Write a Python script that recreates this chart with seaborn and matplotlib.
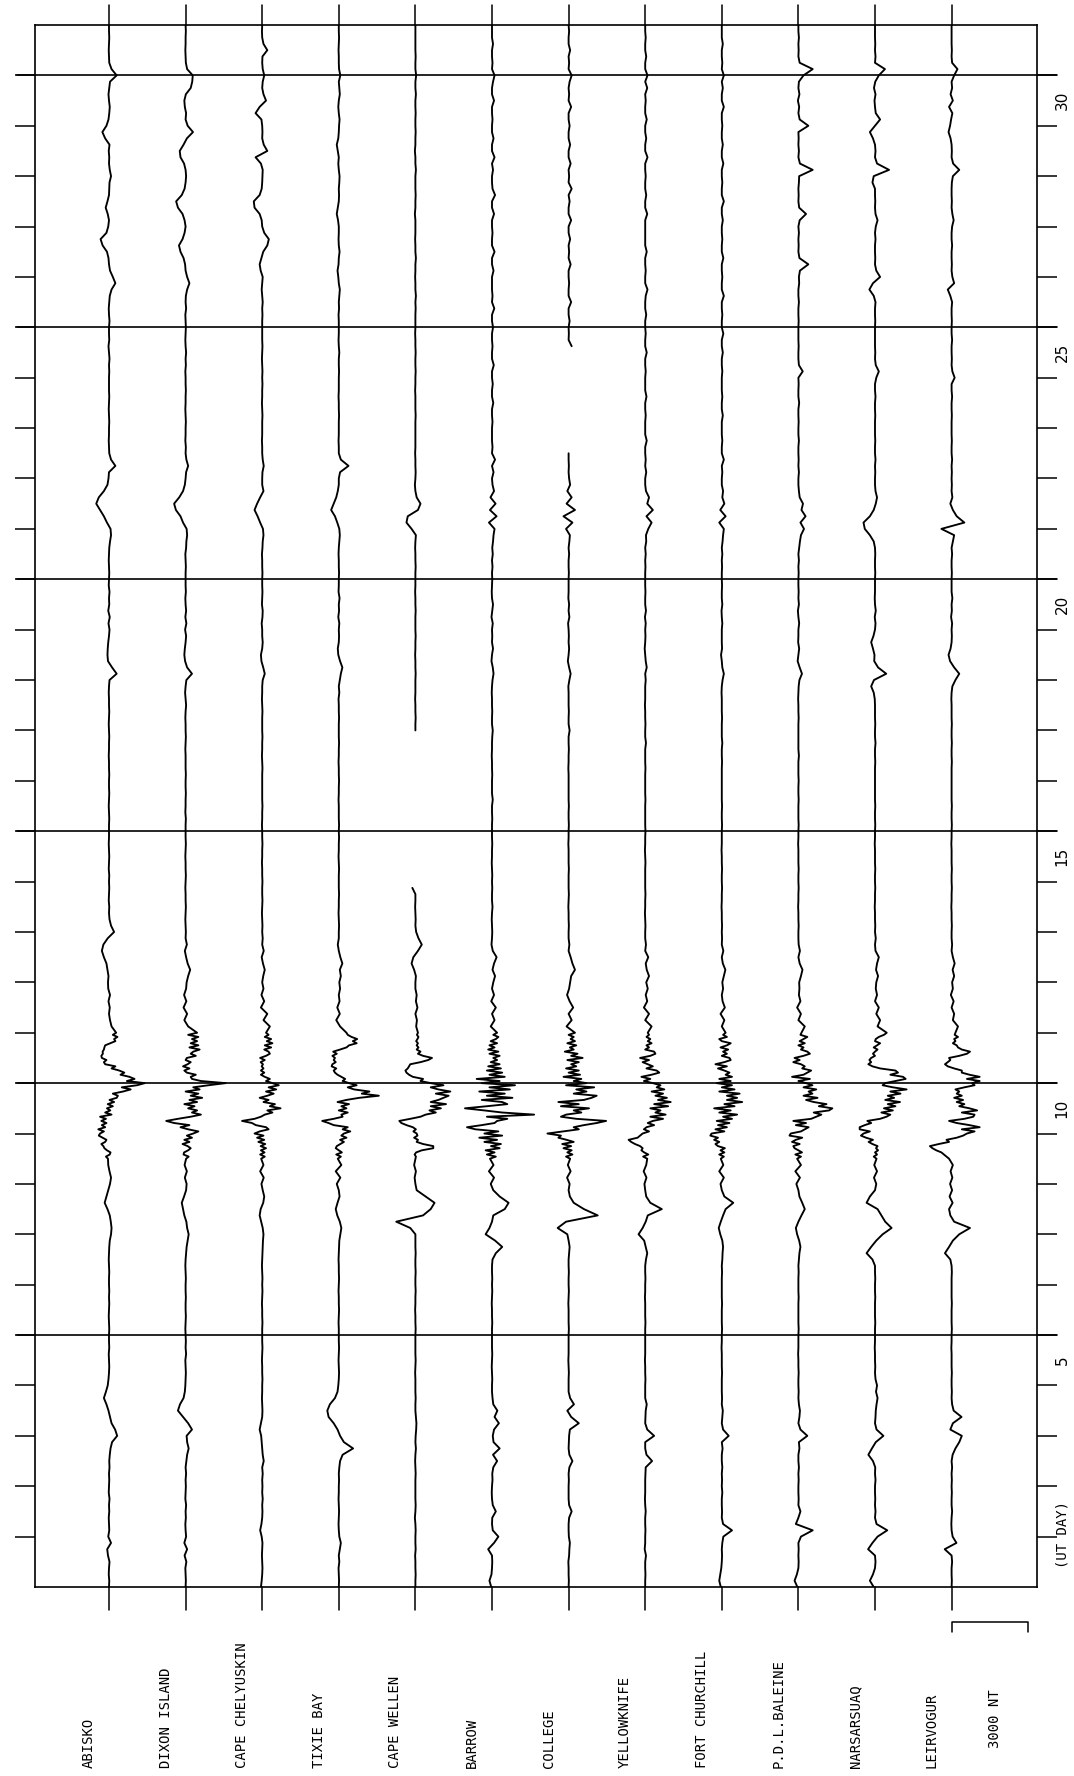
import numpy as np
import pandas as pd
import matplotlib
matplotlib.use("Agg")
import matplotlib.pyplot as plt
import matplotlib.transforms as mtrans
import seaborn as sns

nan = float("nan")

# ---------------- data ----------------
stations = ["ABISKO", "DIXON ISLAND", "CAPE CHELYUSKIN", "TIXIE BAY", "CAPE WELLEN",
            "BARROW", "COLLEGE", "YELLOWKNIFE", "FORT CHURCHILL", "P.D.L.BALEINE",
            "NARSARSUAQ", "LEIRVOGUR"]
day_labels = [5, 10, 15, 20, 25, 30]
day_lines = [5.5, 10.5, 15.5, 20.5, 25.5, 30.5]
value_unit_nT = 10        # list values are in units of 10 nT
station_spacing_nT = 3000
scale_bar_nT = 3000

# sampling: 3-hourly from day 0.5 to 8.875, hourly 9.0-11.458 (storm), 3-hourly 11.5-31.5
n_before, n_storm, n_after = 68, 60, 161
time_grid = np.concatenate([0.5 + np.arange(n_before) / 8,
                            9.0 + np.arange(n_storm) / 24,
                            11.5 + np.arange(n_after) / 8])

# deflections (10 nT units, positive = to the right)
abisko = [
    0, 1, -1, 0, 2, -4, -7, 8,   -3, 1, 0, -1, 1, 0, 2, -1,   0, 1, 0, 2, 1, 3, 6, 12,
    32, 24, 10, 4, -2, -10, -20, -12,   -5, -2, 0, 1, 0, -1, 1, 0,   0, 1, 0, -1, 0, 1, 0, 1,
    0, 0, 1, 0, -1, 0, 1, 3,   8, 10, 7, 3, -6, -17, -10, -3,   4, 8, 2, -3,
    # storm, hourly
    -4, -12, 3,  6, -8, -18,  -22, -30, -15,  -10, -25, -40,  -35, -20, -42,  -15, -28, -10,
    -30, -12, -35,  10, -15, 5,  -8, 15, -5,  20, 2, 30,  35, 15, 55,  85, 50, 110,
    140, 70, 100,  80, 45, 60,  40, 10, 25,  -15, -20, -10,  -28, -30, -24,  -25, -20, -18,
    -15, 5, 25,  20, 33, 15,
    # 3-hourly
    28, 10, 4, 0, 3, -2, 4, -3,
    -4, -2, -6, -10, -20, -28, -22, -5,   20, 8, 2, 0, 1, -1, 0, 1,   0, 1, -1, 0, 1, 0, -1, 0,
    0, 0, 1, 0, -1, 0, 1, 0,   0, 1, 0, 0, -1, 0, 0, 1,   0, -1, 0, 1, 0, 0, -1, 0,
    2, 30, 12, -4, -6, -5, -3, 0,   2, -2, 3, -3, 1, 0, 2, -1,   0, 1, 0, -1, 0, 1, 4, 8,
    6, -8, -20, -35, -50, -40, -20, -6,   -2, 0, 25, 8, 1, 0, -1, 0,   0, 1, 0, -1, 0, 1, 0, 0,
    0, 1, 0, 2, 0, -2, 1, 0,   0, 2, 0, -1, 1, 3, 10, 25,   15, 4, 0, -2, -8, -25, -33, -10,
    -3, 0, -5, -13, -6, 0, 1, 2,   8, 3, 0, 1, -1, 2, -15, -26,   -10, -2, 1, 3, 0, -2, 1, 4,
    30, 10, 1, 0, -1, 0, 1, 0,   0]

dixon_island = [
    0, 1, 0, -1, 3, -4, 6, -5,   2, 0, -1, 1, 0, 2, -1, 0,   1, 0, 2, 0, 3, 6, 12, 6,
    4, 25, 10, -10, -30, -22, -8, -3,   -1, 0, 1, 0, -1, 2, 0, 1,   0, -1, 0, 1, 0, 0, 1, 0,
    0, 1, 0, -1, 0, 2, 4, 8,   12, 6, 3, -5, -10, -15, -6, 2,   4, -3, 5, -4,
    2, 12, -8,  -6, 10, 20,  8, -12, 15,  -5, 25, 5,  30, 50, 10,  -20, 15, -45,
    -76, -30, 20,  60, 25, 45,  10, 35, -5,  45, 15, 65,  20, 50, 0,  55, 30, 90,
    157, 60, 25,  20, 40, 5,  -5, 15, -10,  8, 20, 0,  5, 40, 20,  30, 55, 15,
    50, 20, 45,  25, 50, 10,
    45, 10, -5, 6, -8, 3, -6, 2,
    4, 10, 18, 8, 2, -3, 5, 0,   1, 0, -1, 0, 1, 0, 0, -1,   0, 1, 0, 0, -1, 0, 1, 0,
    0, 0, 1, -1, 0, 0, 1, 0,   0, 1, 0, 0, 0, -1, 0, 1,   0, 0, -1, 0, 2, 0, -2, 0,
    3, 25, 6, -2, -5, -3, 0, 2,   -2, 3, -1, 2, 0, -1, 1, 0,   0, 0, 1, 0, -1, 2, 3, 6,
    4, -10, -20, -38, -45, -25, -10, -3,   0, 2, 10, 3, 0, 1, -1, 0,   0, 1, 0, -1, 0, 0, 1, 0,
    0, -1, 1, 0, 2, 0, -1, 0,   1, 0, -1, 2, 0, 1, 6, 15,   6, 0, -2, -8, -20, -26, -12, -4,
    0, -4, -12, -30, -37, -15, -4, 0,   2, 0, -6, -20, -23, -8, 5, 29,   8, 0, 2, -3, -5, 1, 20, 26,
    28, 6, 1, 0, -1, 0, 0, 1,   0]

cape_chelyuskin = [
    -5, -2, 0, 1, 0, -1, 0, 1,   -2, -8, -3, 0, 1, 0, 2, 0,   1, 0, 2, 0, 6, 2, 0, -2,
    -4, -10, -5, 0, 1, 0, -1, 0,   0, 1, 0, 0, -1, 0, 1, 0,   0, 0, 1, 0, 0, -1, 0, 1,
    0, 1, 0, -1, 0, 1, 2, 3,   5, 2, -4, -10, -6, 4, 8, 2,   -3, 6, -8, 5,
    -4, 10, -8,  9, -5, 15,  -6, 12, -15,  8, -20, 5,  -30, -10, 25,  15, -25, -40,
    -79, -30, -5,  10, 40, 20,  72, 30, 50,  5, 25, -10,  20, 45, 15,  55, 25, 65,
    40, 15, 30,  10, -5, 8,  -5, 5, -2,  3, -6, 10,  -8, 15, 30,  25, 8, 35,
    10, 40, 18,  35, 10, 25,
    15, 30, 5, 20, -5, 8, -3, 5,
    0, 4, 10, 3, -2, 6, 0, 2,   0, 1, 0, -1, 0, 1, 0, 0,   1, 0, 0, -1, 0, 0, 1, 0,
    0, -1, 0, 0, 1, 0, 0, 0,   0, 0, 1, 0, -1, 0, 0, 1,   0, 0, 0, 1, 0, -1, 0, 0,
    2, 10, 4, -3, -5, 0, 2, 0,   0, -2, 1, 2, -1, 0, 1, 0,   0, 1, 0, 0, -1, 1, 2, 5,
    3, -8, -18, -30, -20, -8, 5, 0,   0, 1, 6, 2, 0, 0, -1, 0,   0, 0, 1, 0, -1, 0, 0, 1,
    0, 1, 0, -1, 0, 1, 0, 0,   0, 0, 1, 0, 2, 0, -2, 0,   2, -6, -10, -3, 4, 20, 26, 8,
    0, -2, -10, -30, -33, -10, -2, 0,   1, 2, -5, -26, 20, 6, 0, 1,   0, -3, -26, -10, 15, 5, 0, 2,
    8, 2, 0, 1, 20, 5, 0, -1,   0]

tixie_bay = [
    0, 1, 0, -1, 2, 0, 4, 8,   2, 0, -1, 0, 1, 0, -1, 0,   0, 1, 0, 2, 5, 15, 56, 20,
    5, -5, -20, -40, -45, -35, -15, -5,   -2, 0, 1, 0, -1, 0, 1, 0,   0, 0, -1, 0, 1, 0, 0, -1,
    0, 1, 0, 0, -1, 0, 1, 2,   6, 10, 4, -6, -12, -5, 3, 0,   -8, 6, -12, 10,
    -4, 8, -10,  12, 0, -12,  -8, 6, 20,  5, 30, 10,  20, 45, 15,  35, -20, -40,
    -65, -20, 15,  10, 35, 0,  30, 10, 40,  -5, 30, 80,  157, 90, 120,  60, 35, 70,
    40, 15, 25,  10, -5, -15,  -20, -10, -28,  -25, -12, -20,  -15, -25, -8,  -22, 5, 30,
    40, 70, 55,  72, 50, 35,
    30, 5, -10, 4, -6, 3, 0, 5,
    2, 8, 4, 14, 6, 0, -4, 0,   0, 1, 0, -1, 0, 0, 1, 0,   0, 0, 1, 0, -1, 0, 0, 1,
    0, 1, 0, 0, 0, -1, 0, 0,   1, 0, 0, -1, 0, 0, 1, 0,   0, 0, 1, 0, 0, -1, 2, 0,
    4, 8, 14, 5, -2, -4, 0, 1,   0, 2, -2, 1, 0, 3, -1, 0,   0, 1, 0, 0, -1, 0, 2, 4,
    2, -6, -15, -30, -20, -10, -4, 0,   0, 5, 38, 8, 0, 0, -1, 0,   0, 0, 1, 0, 0, -1, 0, 0,
    0, 1, 0, 0, 2, 0, -1, 0,   0, 0, -1, 1, 0, 2, 4, 0,   -2, -5, -1, 0, 3, 0, -1, 0,
    0, -3, -8, -4, 0, 1, 0, 2,   3, 0, -2, 0, -4, -8, -2, 0,   1, 3, 0, -2, 0, 4, 2, 0,
    6, 1, 0, 0, -1, 0, 1, 0,   0]

cape_wellen = [
    0, 0, 1, 0, 0, -1, 1, 0,   0, 1, 0, -2, 0, 1, 0, 0,   0, 0, 1, 0, -1, 0, 2, 0,
    1, 3, 4, 2, 0, 0, 1, 0,   0, 0, -1, 0, 1, 0, 0, 0,   0, 1, 0, 0, -1, 0, 0, 1,
    0, 0, 1, 0, 0, 1, 0, 0,   0, -20, -75, 30, 60, 75, 40, 5,   0, -3, 2, -5,
    0, 2, -3,  3, 25, 70,  70, 30, 5,  10, -5, 8,  5, -8, 2,  -10, -35, -55,
    -63, -20, 20,  40, 80, 55,  100, 60, 120,  60, 90, 110,  130, 80, 137,  90, 60, 110,
    60, 20, 30,  -10, -25, -35,  -39, -30, -25,  -20, 20, 50,  65, 30, 10,  20, 5, 12,
    5, 10, 3,  8, 12, 6,
    10, 3, 6, 0, 8, 2, 5, 0,
    0, 2, -5, -15, -8, 10, 25, 12,   3, 0, 1, 0, -1, 0, 0, -12,   nan, nan, nan, nan, nan, nan, nan, nan,
    nan, nan, nan, nan, nan, nan, nan, nan,   nan, nan, nan, nan, nan, nan, nan, nan,   0, 0, 1, 0, 0, -1, 0, 0,
    0, 1, 0, 0, -1, 0, 0, 1,   0, 0, 0, 1, 0, 0, -1, 0,   0, 0, 1, 0, 0, -1, 0, 2,
    -15, -35, -30, 10, 20, 5, 0, -2,   0, 1, 0, 0, -1, 0, 0, 0,   0, 0, 1, 0, 0, 0, -1, 0,
    0, 1, 0, 0, 1, 0, 0, -1,   0, 0, 0, 1, 0, 2, 0, 0,   -1, 0, 0, 2, 0, 0, -1, 0,
    0, 0, -2, 0, 0, 1, 0, 0,   0, 2, 0, 0, -2, 0, 0, 1,   0, 0, 1, 0, 0, 2, 0, 0,
    3, 0, 0, 1, 0, 0, 0, 0,   0]

barrow = [
    -3, -10, -2, 0, 1, 0, -15, 8,   25, 3, 0, 1, 15, 3, 0, -1,   0, 2, 1, 5, 20, 4, 30, 6,
    3, 8, 27, 10, 21, 5, 2, 0,   0, 1, 0, -1, 0, 1, 0, 0,   0, 0, 1, 0, 0, -1, 0, 1,
    0, 1, 0, 0, 2, 15, 40, 12,   -25, -10, 0, 5, 50, 65, 30, 5,   -5, 8, -12, 6,
    -8, 15, -20,  10, -25, 30,  -4, 35, -30,  20, -50, 40,  -30, 25, -65,  -98, -40, 10,
    20, 60, -20,  165, 40, -30,  -106, -20, 60,  40, -40, 80,  -20, 50, -50,  70, -10, 90,
    -40, 30, -60,  50, -10, 40,  -20, 35, -15,  30, -5, 20,  5, 30, -10,  25, -15, 10,
    -10, 20, -5,  15, 25, 5,
    20, -5, 10, 0, 15, -3, 8, 0,
    5, 12, 2, 8, 18, 3, -2, 0,   1, 0, -1, 0, 2, 0, 0, 1,   0, 1, 0, -1, 0, 0, 1, 0,
    0, 0, 1, 0, 0, 3, 0, 0,   0, 1, 0, 0, -1, 0, 0, 1,   3, 0, 0, 1, 0, 0, -1, 0,
    2, 6, 3, -2, 0, 4, 0, 1,   0, 3, -2, 1, 4, 0, -1, 0,   1, 0, 2, 0, 3, 1, 4, 6,
    10, -12, 18, -8, 14, -6, 8, 2,   0, 6, 0, 12, 0, 2, 0, 0,   0, 2, 0, 0, 5, 0, 0, 3,
    0, 0, 7, 0, 0, 2, 0, 0,   4, 0, 0, 9, 0, 2, 0, 0,   0, 6, 0, 0, 10, 0, 0, 2,
    0, 0, 8, 0, 0, 12, 2, 0,   0, 4, 0, 10, 0, 0, 6, 0,   0, 2, 0, 0, 8, 0, 0, 4,
    10, 0, 2, 0, 0, 4, 0, 0,   0]

college = [
    0, 1, 0, 0, -1, 2, 3, 5,   1, 0, 0, 2, 12, 2, 0, 0,   0, 1, 0, 3, 15, 3, 0, 1,
    2, 5, 40, 10, -5, 21, 6, 0,   0, 0, 1, 0, -1, 0, 0, 0,   0, 1, 0, 0, 0, -1, 0, 1,
    0, 0, 1, 0, 0, 2, 4, 0,   -5, -43, -10, 114, 60, 20, 5, 0,   4, -6, 8, -3,
    6, -10, 15,  -5, 12, -20,  10, -25, 20,  -8, -40, -30,  -83, -20, 40,  20, 60, 110,
    147, 30, -30,  -10, 50, 20,  80, -30, 40,  -40, 60, 90,  110, 20, 70,  30, 100, -10,
    70, 20, 50,  -20, 45, 0,  40, -10, 30,  10, 40, -5,  55, 10, 35,  -15, 20, 5,
    30, -5, 25,  8, 20, 0,
    25, -8, 12, 0, 18, 4, -6, 2,
    6, 10, 25, 15, 8, 0, 3, 0,   0, 1, 0, 0, -1, 0, 1, 0,   0, 0, 1, 0, 0, 0, -1, 0,
    0, 1, 0, 0, 1, 0, 0, 0,   0, 0, -1, 0, 0, 1, 0, 0,   4, 0, 0, 1, 0, 0, 0, -1,
    3, 8, 2, -3, 0, 2, 0, 1,   0, -2, 3, 0, 2, -1, 0, 0,   0, 1, 0, 0, 2, 0, 3, 5,
    -10, 15, -20, 25, -8, 12, -5, 6,   2, 0, 1, 0, 0, nan, nan, nan,   nan, nan, nan, nan, nan, nan, nan, nan,
    nan, nan, nan, nan, nan, 12, 0, 1,   0, 4, 0, 0, 10, 0, 0, 2,   0, 0, 8, 0, 2, 0, 6, 0,
    0, 10, 0, 0, 4, 0, 12, 0,   2, 0, 8, 0, 0, 6, 0, 0,   4, 0, 0, 10, 0, 2, 0, 4,
    12, 0, 2, 0, 6, 0, 0, 2,   0]

yellowknife = [
    0, 0, 1, 0, 0, 3, -2, 0,   0, 1, 0, 0, 2, 0, -1, 0,   0, 0, 1, 2, 27, 5, 0, 0,
    35, 8, 0, 1, 2, 6, 0, 0,   0, 1, 0, 0, -1, 0, 0, 0,   0, 0, 1, 0, 0, 0, -1, 0,
    0, 1, 0, 0, 3, 8, 2, -4,   -26, -10, 2, 10, 65, 20, 4, 0,   -3, 5, -6, 4,
    8, -8, 12,  -4, -15, -10,  -20, -40, -55,  -65, -30, -20,  -10, 15, -5,  5, 35, 10,
    30, 70, 20,  80, 40, 60,  20, 90, 35,  100, 50, 85,  40, 70, 25,  75, 45, 60,
    30, -5, 20,  -15, 25, 55,  45, 5, 30,  10, -10, 15,  -20, 20, 40,  35, 0, 15,
    5, 25, 10,  20, 5, 15,
    10, 25, 0, 15, -5, 8, 2, 10,
    4, 15, 6, 2, 12, 0, 3, 0,   0, 1, 0, -1, 0, 0, 1, 0,   0, 0, 0, 1, 0, -1, 0, 0,
    1, 0, 0, 0, 0, 1, 0, 0,   0, 0, 1, 0, 0, 0, 3, 0,   0, 1, 0, 0, -1, 0, 0, 0,
    2, 0, 6, 2, 0, -2, 0, 1,   0, 2, -1, 3, 0, 0, 1, 0,   0, 0, 1, 0, 2, 0, 4, 3,
    12, 25, 5, 30, 8, 15, 3, 0,   0, 4, 0, 2, 0, 0, 6, 0,   0, 0, 2, 0, 0, 5, 0, 0,
    0, 2, 0, 0, 6, 0, 0, 2,   0, 0, 4, 0, 0, 2, 9, 0,   0, 2, 0, 0, 6, 0, 0, 0,
    0, 0, 8, 0, 0, 4, 0, 0,   2, 0, 0, 9, 0, 0, 4, 0,   0, 6, 0, 0, 2, 0, 8, 0,
    9, 0, 0, 4, 0, 0, 2, 0,   0]

fort_churchill = [
    -4, -10, -6, -2, 0, 1, 0, 2,   6, 40, 5, 0, 1, 0, 0, 2,   0, 1, 0, 2, 0, 0, 3, 0,
    27, 5, 0, 2, 4, 0, 1, 0,   0, 0, 1, 0, 0, 0, -1, 0,   0, 1, 0, 0, 0, 1, 0, 0,
    0, 0, 1, 0, 2, 3, 5, 2,   -6, -12, -4, 5, 15, 45, 10, 0,   -5, 8, -10, 6,
    -4, 8, -10,  10, -5, 12,  -15, -25, -10,  -30, -15, -45,  -40, 10, -25,  20, -15, 30,
    -20, 40, 5,  60, -10, 35,  -30, 50, 10,  80, 20, 60,  20, 70, -10,  50, 0, 40,
    -20, 35, -10,  40, 15, 30,  10, -15, 20,  -25, 10, 35,  30, 0, 20,  5, 25, -5,
    20, 35, 0,  -10, 20, 5,
    15, 0, 10, -5, 12, 3, 0, 5,
    2, 8, 14, 4, 0, 6, 0, 1,   0, 1, 0, 0, -1, 0, 0, 1,   0, 0, 1, 0, 0, -1, 0, 0,
    0, 1, 0, 0, 1, 0, 0, 0,   0, 0, 0, 1, 0, 0, 2, 0,   0, 0, 1, 0, 0, 0, -1, 0,
    3, 8, 2, 0, -3, 1, 0, 0,   0, 2, 0, -1, 2, 0, 0, 1,   0, 0, 1, 0, 2, 0, 3, 5,
    8, -10, 15, -6, 10, 2, 5, 0,   0, 2, 0, 8, 0, 0, 2, 0,   0, 0, 4, 0, 0, 2, 0, 0,
    0, 2, 0, 0, 4, 0, 0, 6,   0, 0, 2, 0, 0, 8, 0, 0,   2, 0, 0, 6, 0, 0, 2, 0,
    0, 4, 0, 0, 8, 0, 0, 2,   0, 0, 6, 0, 0, 4, 0, 0,   2, 0, 0, 8, 0, 0, 4, 0,
    8, 0, 2, 0, 0, 4, 0, 0,   0]

pdl_baleine = [
    -4, -15, -6, 0, 1, 0, 1, 0,   10, 56, -10, 0, 8, 0, 1, 0,   0, 1, 0, 2, 0, 0, 4, 2,
    35, 8, 0, 4, 6, 2, 0, 1,   0, 0, 1, 0, 0, -1, 0, 0,   0, 1, 0, 0, 0, 0, 1, 0,
    0, 0, 1, 0, 2, 4, 8, 3,   -5, -10, 0, 12, 25, 15, 4, 0,   -8, 6, -12, 10,
    -5, 10, -12,  14, 0, -15,  -20, 5, -25,  -10, 15, -35,  -30, 10, 25,  40, -10, 30,
    -20, 50, 70,  90, 60, 120,  133, 80, 110,  60, 30, 75,  20, 55, 40,  70, 20, 55,
    30, 0, 45,  -25, 20, 35,  50, 15, 25,  10, -20, 5,  -15, 20, 45,  35, 10, 20,
    0, 25, 5,  20, 35, 8,
    12, 25, 0, 10, -5, 8, 2, 4,
    3, 10, 16, 5, 0, 6, 1, 0,   0, 1, 0, 0, -1, 0, 0, 1,   0, 0, 1, 0, 0, 0, -1, 0,
    0, 1, 0, 0, 0, 1, 0, 0,   1, 0, 0, 0, 2, 0, 0, 0,   0, 0, 1, 0, 0, -1, 0, 1,
    4, 14, 5, -3, 0, 3, -1, 0,   0, 3, 0, -2, 2, 0, 1, 0,   0, 1, 0, 2, 0, 3, 6, 10,
    22, 8, 28, 12, 18, 5, 2, 0,   0, 2, 0, 1, 0, 0, 2, 0,   0, 1, 0, 0, 3, 0, 0, 1,
    0, 17, 2, 0, 0, 1, 0, 0,   0, 1, 0, 0, 2, 0, 0, 3,   2, 6, 39, 4, 0, 1, 0, 2,
    0, 5, 30, 3, 0, 1, 0, 2,   3, 56, 6, 0, 2, 0, 1, 0,   39, 5, 0, 3, -2, 4, 0, 2,
    20, 56, 5, 0, 1, 0, 2, 0,   0]

narsarsuaq = [
    -5, -20, -8, 0, 2, 0, -27, -10,   10, 48, 6, 0, 2, 0, 1, 0,   0, 2, 0, 1, -8, -26, -12, 3,
    33, 6, 0, 2, 3, 6, 10, 4,   8, 2, 0, 1, 0, 0, -1, 0,   0, 0, 1, 0, 0, 0, 1, 0,
    0, 1, 0, 0, -10, -33, -15, 5,   30, 65, 40, 25, 10, -33, -20, 0,   5, -4, 8, -3,
    6, -5, 8,  0, 12, 4,  10, -10, -25,  -8, -35, -55,  -45, -20, -60,  -60, -40, -15,
    -30, 20, 45,  60, 25, 70,  35, 80, 50,  98, 40, 75,  50, 100, 60,  124, 70, 30,
    40, 80, 120,  110, 60, 90,  80, 20, -10,  -26, -15, -22,  -15, 0, -8,  0, 10, -5,
    8, 20, 0,  3, 15, 35,
    46, 10, 20, 5, 15, 0, 8, 3,
    5, 12, 4, 8, 15, 2, 0, 3,   0, 1, 0, 0, -1, 0, 0, 1,   0, 0, 1, 0, 0, 0, -1, 0,
    0, 1, 0, 0, 1, 0, 0, 0,   0, 0, 0, 1, 0, 0, 2, 0,   0, 1, 0, 0, 0, -1, -5, -15,
    -4, 44, 12, -3, -2, -8, -15, -6,   0, 2, -1, 3, 0, -1, 0, 0,   0, 1, 0, 0, 1, 0, -5, -20,
    -40, -45, -20, -5, 3, 8, 2, 0,   0, 1, 0, 2, 0, 0, 1, 0,   0, 0, 1, 0, 0, 2, 0, 0,
    5, 15, 3, 0, 1, 0, 0, 0,   0, 1, 0, 0, 2, -5, -22, -8,   20, 5, 0, 1, 0, 0, 2, 0,
    3, 10, 2, 0, 1, 0, 0, -10,   -5, 55, 8, 0, 2, 0, -8, -20,   0, 20, 3, 0, -2, 2, -4, 1,
    15, 39, 0, 2, 0, 1, 0, 0,   0]

leirvogur = [
    0, 1, 0, 0, 2, 0, -27, 19,   4, 0, -1, 0, 2, 0, 0, 1,   0, 1, 0, 2, 0, 4, 15, 30,
    40, -5, 5, 39, 8, 2, 0, 1,   0, 0, 1, 0, 0, 0, -1, 0,   0, 1, 0, 0, 0, 1, 0, 0,
    0, 0, 1, 0, -5, -26, -10, 5,   30, 72, 10, -5, -10, 4, -8, 2,   -6, 3, -4, 5,
    -10, -20, -30,  -40, -60, -75,  -85, -50, -10,  -20, 20, 45,  60, 90, 40,  110, 70, 20,
    -10, 50, 85,  90, 40, 100,  70, 30, 50,  20, 45, 10,  40, 20, 30,  15, 50, 90,
    80, 110, 60,  110, 70, 40,  40, 10, -15,  -26, -15, -5,  -10, 30, 60,  72, 40, 25,
    20, 5, 15,  10, 25, 12,
    15, 25, 5, 10, 0, 8, -3, 5,
    2, 10, 4, 12, 5, 0, 2, 0,   0, 1, 0, 0, -1, 0, 0, 1,   0, 0, 1, 0, 0, 0, -1, 0,
    0, 1, 0, 0, 1, 0, 0, 0,   0, 0, 0, 1, 0, 0, 1, 0,   0, 1, 0, 0, 0, -1, 0, 3,
    15, 30, 10, -6, -12, -4, 0, 1,   0, 2, -2, 1, 0, 3, 0, 0,   0, 1, 0, 0, 2, 0, 5, 10,
    -40, 50, 20, 5, -5, 3, 0, 1,   0, 1, 0, 2, 0, 0, 1, 0,   0, 0, 1, 0, 0, 2, 0, 0,
    12, 3, 0, 1, 0, 0, 2, 0,   0, 1, 0, 0, 2, -5, -15, 10,   3, 0, 1, 0, 0, 2, 0, 0,
    2, 8, 3, 0, 1, 0, 0, 1,   5, 30, 6, 0, 1, 0, -4, -12,   -6, -2, 3, -10, 5, -4, 2, 0,
    10, 23, 2, 0, 1, 0, 0, 0,   0]

series = [abisko, dixon_island, cape_chelyuskin, tixie_bay, cape_wellen, barrow,
          college, yellowknife, fort_churchill, pdl_baleine, narsarsuaq, leirvogur]

# ---------------- long table ----------------
frames = []
for k, (name, vals) in enumerate(zip(stations, series)):
    n = min(len(vals), len(time_grid))
    v = np.asarray(vals[:n], dtype=float)
    t = time_grid[:n]
    seg = np.cumsum(np.isnan(v))
    d = pd.DataFrame({
        "station": name,
        "t": t,
        "x": k * station_spacing_nT + v * value_unit_nT,
        "seg": [f"{name}-{s}" for s in seg],
    })
    frames.append(d.dropna(subset=["x"]))
df = pd.concat(frames, ignore_index=True)

# ---------------- figure ----------------
sns.set_theme(style="white")
plt.rcParams["font.family"] = ["DejaVu Sans"]

W, H = 1074, 1776
fig = plt.figure(figsize=(W / 100, H / 100), dpi=100)
L, R, T, B = 35, 1037, 25, 1587
ax = fig.add_axes([L / W, 1 - B / H, (R - L) / W, (B - T) / H])

px_per_nT = 76.6 / station_spacing_nT
x0 = -(109 - L) / px_per_nT
ax.set_xlim(x0, x0 + (R - L) / px_per_nT)
ax.set_ylim(0.5, 31.5)

sns.lineplot(data=df, x="x", y="t", units="seg", estimator=None, sort=False,
             orient="y", color="black", linewidth=1.35, ax=ax, legend=False)

ax.set_xlabel("")
ax.set_ylabel("")
ax.set_xticks([])
ax.set_yticks(np.arange(1.5, 31.0, 1.0))
ax.tick_params(axis="y", which="major", left=True, right=True, direction="out",
               length=14.5, width=1.1, color="black", labelleft=False, labelright=False)
for sp in ax.spines.values():
    sp.set_visible(True)
    sp.set_color("black")
    sp.set_linewidth(1.2)

frame_h = B - T
frame_w = R - L
yx = mtrans.blended_transform_factory(ax.transAxes, ax.transData)
xy = mtrans.blended_transform_factory(ax.transData, ax.transAxes)

# day separator lines (extend slightly outside the frame)
for v in day_lines:
    ax.plot([-18 / frame_w, 1 + 20 / frame_w], [v, v], transform=yx, color="black",
            lw=1.2, clip_on=False)

# day labels and axis name on the right
for dl in day_labels:
    ax.text(1 + 25 / frame_w, dl, str(dl), transform=yx, rotation=90, ha="center",
            va="center", fontsize=11, color="black")
ax.text(1 + 25 / frame_w, 1.55, "(UT DAY)", transform=yx, rotation=90, ha="center",
        va="center", fontsize=10, color="black", family="DejaVu Sans Mono")

# station stubs above / below the frame and labels
for k, name in enumerate(stations):
    xs = k * station_spacing_nT
    ax.plot([xs, xs], [1, 1 + 20 / frame_h], transform=xy, color="black", lw=1.1, clip_on=False)
    ax.plot([xs, xs], [0, -23 / frame_h], transform=xy, color="black", lw=1.1, clip_on=False)
    ax.text(xs - 20 / px_per_nT, (B - 1768) / frame_h, name, transform=xy, rotation=90,
            rotation_mode="anchor", ha="left", va="center", fontsize=10,
            family="DejaVu Sans Mono", color="black")

# scale bar
sb0 = (len(stations) - 1) * station_spacing_nT
yb = (B - 1622) / frame_h
yb2 = (B - 1632) / frame_h
ax.plot([sb0, sb0, sb0 + scale_bar_nT, sb0 + scale_bar_nT], [yb2, yb, yb, yb2],
        transform=xy, color="black", lw=1.1, clip_on=False)
ax.text(sb0 + scale_bar_nT / 2 + 5 / px_per_nT, (B - 1748) / frame_h, f"{scale_bar_nT} NT",
        transform=xy, rotation=90, rotation_mode="anchor", ha="left", va="center",
        fontsize=10, family="DejaVu Sans Mono", color="black")

fig.savefig("out.png", dpi=100, facecolor="white")
